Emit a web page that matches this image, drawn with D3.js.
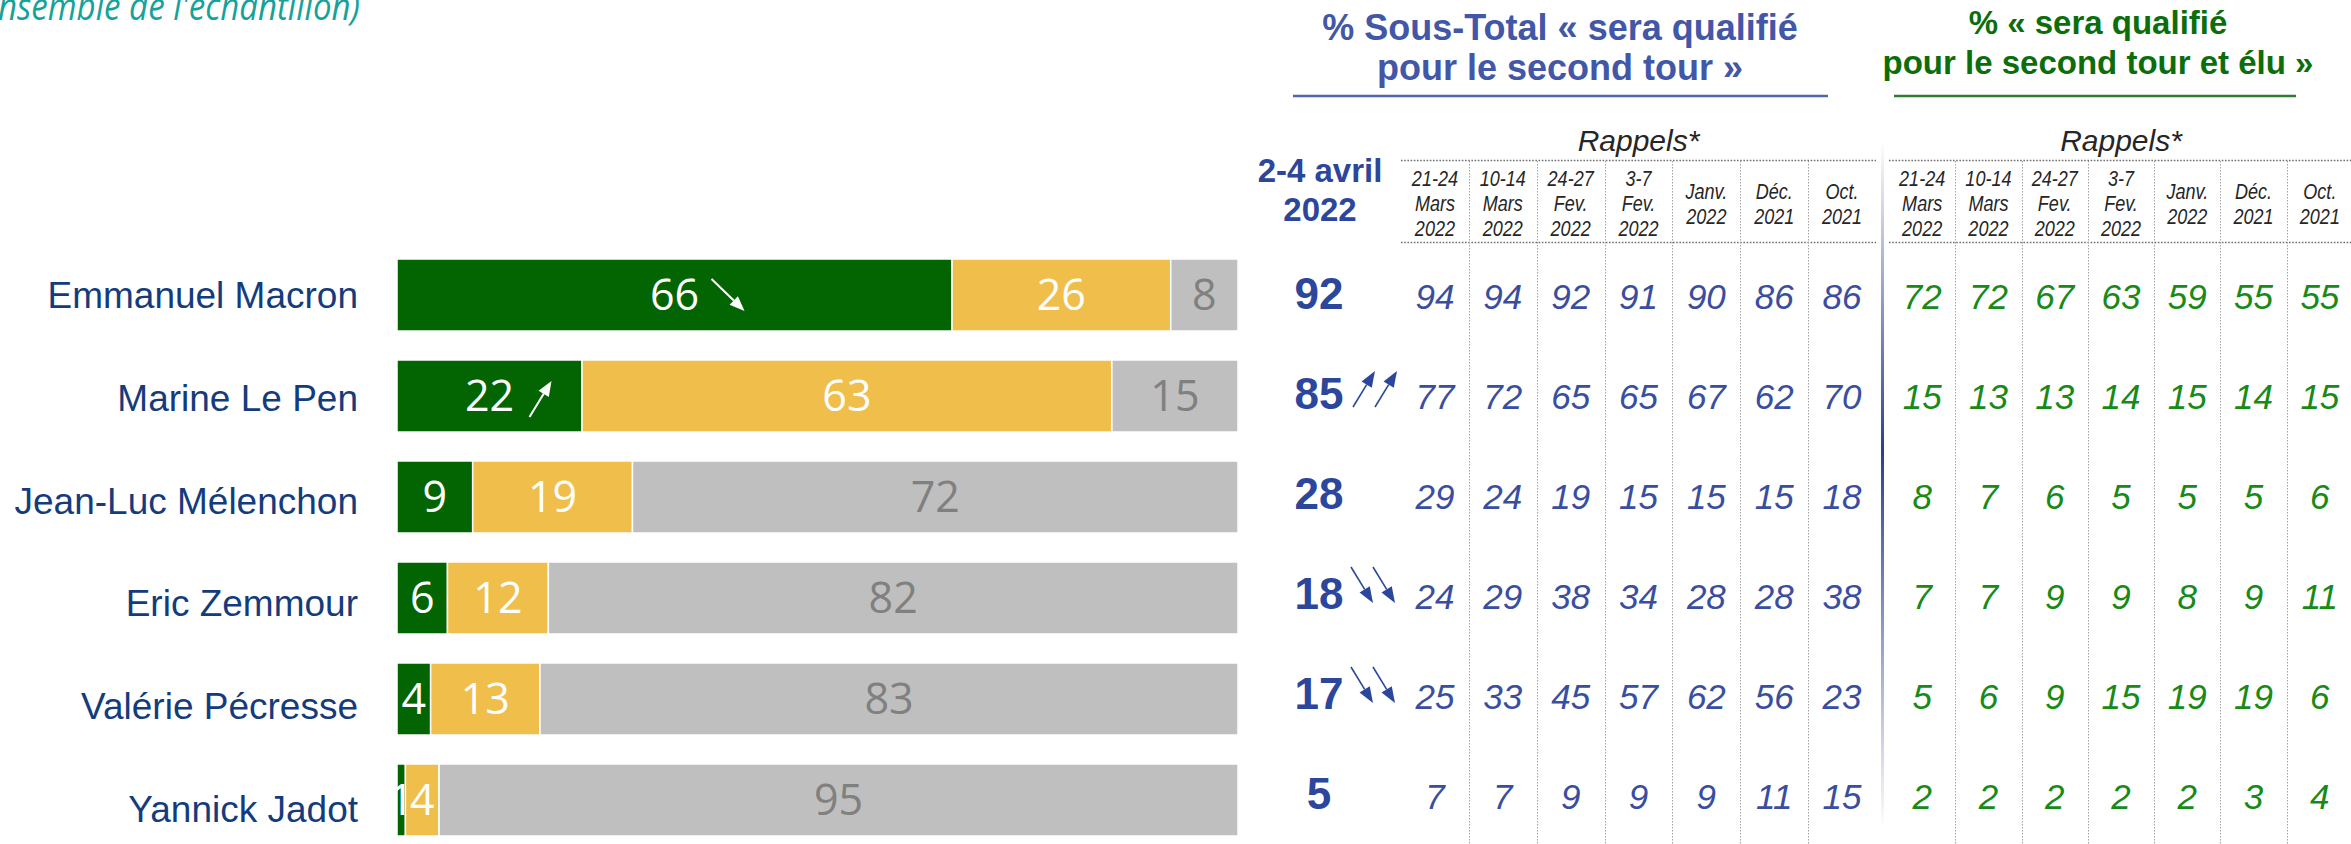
<!DOCTYPE html>
<html>
<head>
<meta charset="utf-8">
<script src="https://cdn.jsdelivr.net/npm/d3@7"></script>
<style>
  html, body { margin: 0; padding: 0; background: #fff; overflow: hidden; }
  svg { display: block; }
</style>
</head>
<body>
<svg id="chart" width="2351" height="844"></svg>
<script>
// ---- Data -------------------------------------------------------------
const candidates = ["Emmanuel Macron", "Marine Le Pen", "Jean-Luc Mélenchon",
                    "Eric Zemmour", "Valérie Pécresse", "Yannick Jadot"];
// stacked bar shares (%)
const qualifElu    = [66, 22, 9, 6, 4, 1];     // qualifié et élu
const qualifNonElu = [26, 63, 19, 12, 13, 4];  // qualifié, non élu
const nonQualif    = [8, 15, 72, 82, 83, 95];  // non qualifié
const barTrend     = ["down", "up", null, null, null, null];

// current wave sub-total
const currentWave  = ["2-4 avril", "2022"];
const sousTotal    = [92, 85, 28, 18, 17, 5];
const totalTrend   = [null, "up", null, "down", "down", null];

// previous waves
const waveLabels = [["21-24", "Mars", "2022"], ["10-14", "Mars", "2022"],
                    ["24-27", "Fev.", "2022"], ["3-7", "Fev.", "2022"],
                    ["Janv.", "2022"], ["Déc.", "2021"], ["Oct.", "2021"]];
const rappelsQualif = [
  [94, 94, 92, 91, 90, 86, 86],
  [77, 72, 65, 65, 67, 62, 70],
  [29, 24, 19, 15, 15, 15, 18],
  [24, 29, 38, 34, 28, 28, 38],
  [25, 33, 45, 57, 62, 56, 23],
  [7, 7, 9, 9, 9, 11, 15]
];
const rappelsElu = [
  [72, 72, 67, 63, 59, 55, 55],
  [15, 13, 13, 14, 15, 14, 15],
  [8, 7, 6, 5, 5, 5, 6],
  [7, 7, 9, 9, 8, 9, 11],
  [5, 6, 9, 15, 19, 19, 6],
  [2, 2, 2, 2, 2, 3, 4]
];

const subtitle    = "nsemble de l'échantillon)";
const titleQualif = ["% Sous-Total « sera qualifié", "pour le second tour »"];
const titleElu    = ["% « sera qualifié", "pour le second tour et élu »"];
const rappelsText = "Rappels*";

// ---- Drawing ----------------------------------------------------------
const svg = d3.select("#chart");
const SANS = "'Liberation Sans', Arial, sans-serif";
const BAR_FONT = "'Open Sans', sans-serif";

function arrow(g, x1, y1, x2, y2, color, lw, hl, hw) {
  const a = Math.atan2(y2 - y1, x2 - x1);
  const bx = x2 - hl * Math.cos(a), by = y2 - hl * Math.sin(a);
  g.append("line")
    .attr("x1", x1).attr("y1", y1).attr("x2", bx).attr("y2", by)
    .attr("stroke", color).attr("stroke-width", lw);
  const px = -Math.sin(a) * hw / 2, py = Math.cos(a) * hw / 2;
  g.append("path")
    .attr("d", `M${x2},${y2}L${bx + px},${by + py}L${bx - px},${by - py}Z`)
    .attr("fill", color);
}

// subtitle, running off the top-left corner
svg.append("text")
  .attr("x", -2).attr("y", 20)
  .attr("font-family", BAR_FONT).attr("font-style", "italic")
  .attr("font-size", 38).attr("fill", "#17a19b")
  .attr("textLength", 362).attr("lengthAdjust", "spacingAndGlyphs")
  .text(subtitle);

// ---- stacked bars ----
const x = d3.scaleLinear().domain([0, 100]).range([397, 1238]);
const yBar = d3.scaleBand().domain(candidates).range([259, 836]).paddingInner(0.287);
const yName = d3.scalePoint().domain(candidates).range([308, 822]);

const rows = candidates.map((c, i) => ({
  name: c, elu: qualifElu[i], qualif: qualifNonElu[i], non: nonQualif[i]
}));
const keys = ["elu", "qualif", "non"];
const fills = { elu: "#026502", qualif: "#f0be4a", non: "#bfbfbf" };
const textFills = { elu: "#ffffff", qualif: "#ffffff", non: "#808080" };
const stacked = d3.stack().keys(keys)(rows);

const gBars = svg.append("g");
stacked.forEach(layer => {
  const k = layer.key;
  gBars.append("g").selectAll("rect").data(layer).join("rect")
    .attr("x", d => x(d[0]))
    .attr("y", d => yBar(d.data.name))
    .attr("width", d => x(d[1]) - x(d[0]))
    .attr("height", yBar.bandwidth())
    .attr("fill", fills[k])
    .attr("stroke", "#ffffff").attr("stroke-width", 1.5);
});
stacked.forEach(layer => {
  const k = layer.key;
  gBars.append("g").selectAll("text").data(layer).join("text")
    .attr("x", d => x((d[0] + d[1]) / 2))
    .attr("y", d => yBar(d.data.name) + yBar.bandwidth() / 2)
    .attr("dy", "0.36em")
    .attr("text-anchor", "middle")
    .attr("font-family", BAR_FONT).attr("font-size", 43)
    .attr("fill", textFills[k])
    .text(d => d[1] - d[0]);
});
// trend arrows on the green segments
stacked[0].forEach((d, i) => {
  const t = barTrend[i];
  if (!t) return;
  const cx = x((d[0] + d[1]) / 2), top = yBar(d.data.name);
  if (t === "down") arrow(gBars, cx + 37, top + 20, cx + 70, top + 52, "#fff", 2, 15, 12);
  else arrow(gBars, cx + 40, top + 57, cx + 62, top + 21, "#fff", 2, 15, 12);
});

// candidate names
svg.append("g").selectAll("text").data(candidates).join("text")
  .attr("x", 358).attr("y", d => yName(d))
  .attr("text-anchor", "end")
  .attr("font-family", SANS).attr("font-size", 37)
  .attr("fill", "#143c7c")
  .text(d => d);

// ---- tables ----
const yRow = d3.scalePoint().domain(candidates).range([309, 809]);
const xQ = d3.scaleBand().domain(d3.range(waveLabels.length)).range([1401, 1876]);
const xE = d3.scaleBand().domain(d3.range(waveLabels.length)).range([1889, 2353]);

// titles
function title(lines, cx, ys, size, color, lineColor, lx1, lx2) {
  const g = svg.append("g");
  lines.forEach((l, i) => g.append("text")
    .attr("x", cx).attr("y", ys[i]).attr("text-anchor", "middle")
    .attr("font-family", SANS).attr("font-weight", "bold").attr("font-size", size)
    .attr("fill", color).text(l));
  g.append("line").attr("x1", lx1).attr("x2", lx2).attr("y1", 96).attr("y2", 96)
    .attr("stroke", lineColor).attr("stroke-width", 2.5);
}
title(titleQualif, 1560, [40, 80], 36, "#4257a7", "#5165ad", 1293, 1828);
title(titleElu, 2098, [34, 74], 33, "#0b6e0b", "#2e7d2e", 1894, 2296);

// current wave column
const gCur = svg.append("g");
currentWave.forEach((l, i) => gCur.append("text")
  .attr("x", 1320).attr("y", [182, 221][i]).attr("text-anchor", "middle")
  .attr("font-family", SANS).attr("font-weight", "bold").attr("font-size", 33)
  .attr("fill", "#2c469b").text(l));
gCur.selectAll(".v").data(sousTotal).join("text")
  .attr("x", 1319).attr("y", (d, i) => yRow(candidates[i]))
  .attr("text-anchor", "middle")
  .attr("font-family", SANS).attr("font-weight", "bold").attr("font-size", 44)
  .attr("fill", "#2c469b").text(d => d);
totalTrend.forEach((t, i) => {
  if (!t) return;
  const b = yRow(candidates[i]);
  [0, 22].forEach(off => {
    if (t === "up") arrow(gCur, 1353 + off, b - 2, 1375 + off, b - 38, "#2c469b", 1.6, 16, 12);
    else arrow(gCur, 1351 + off, b - 42, 1373 + off, b - 6, "#2c469b", 1.6, 16, 12);
  });
});

function table(xs, values, color) {
  const g = svg.append("g");
  const [x0, x1] = xs.range();
  g.append("text")
    .attr("x", (x0 + x1) / 2).attr("y", 151).attr("text-anchor", "middle")
    .attr("font-family", SANS).attr("font-style", "italic").attr("font-size", 30)
    .attr("fill", "#262626").text(rappelsText);
  [160.5, 242.5].forEach(y => g.append("line")
    .attr("x1", x0).attr("x2", x1).attr("y1", y).attr("y2", y)
    .attr("stroke", "#6e6e6e").attr("stroke-width", 1.6)
    .attr("stroke-dasharray", "1.6,1.6"));
  xs.domain().slice(1).forEach(i => g.append("line")
    .attr("x1", Math.round(xs(i)) + 0.5).attr("x2", Math.round(xs(i)) + 0.5)
    .attr("y1", 161).attr("y2", 844)
    .attr("stroke", "#a3a3a3").attr("stroke-width", 1)
    .attr("stroke-dasharray", "1.5,1.5"));
  // wave headers, narrow italic
  waveLabels.forEach((lines, i) => {
    const cx = xs(i) + xs.bandwidth() / 2;
    lines.forEach((l, k) => {
      const y = 203 + (k - (lines.length - 1) / 2) * 25 + 8;
      g.append("text")
        .attr("transform", `translate(${cx},${y}) scale(0.82,1)`)
        .attr("text-anchor", "middle")
        .attr("font-family", SANS).attr("font-style", "italic").attr("font-size", 22)
        .attr("fill", "#262626").text(l);
    });
  });
  values.forEach((row, r) => row.forEach((v, c) => g.append("text")
    .attr("x", xs(c) + xs.bandwidth() / 2).attr("y", yRow(candidates[r]))
    .attr("text-anchor", "middle")
    .attr("font-family", SANS).attr("font-style", "italic").attr("font-size", 35)
    .attr("fill", color).text(v)));
}
table(xQ, rappelsQualif, "#3a4ea1");
table(xE, rappelsElu, "#178a17");

// fading divider between the two tables
const grad = svg.append("defs").append("linearGradient")
  .attr("id", "divFade").attr("x1", 0).attr("x2", 0).attr("y1", 0).attr("y2", 1);
[[0, 0], [0.45, 1], [1, 0]].forEach(([o, a]) => grad.append("stop")
  .attr("offset", o).attr("stop-color", "#2b3f91").attr("stop-opacity", a));
svg.append("rect").attr("x", 1881).attr("y", 140).attr("width", 3).attr("height", 690)
  .attr("fill", "url(#divFade)");
</script>
</body>
</html>
